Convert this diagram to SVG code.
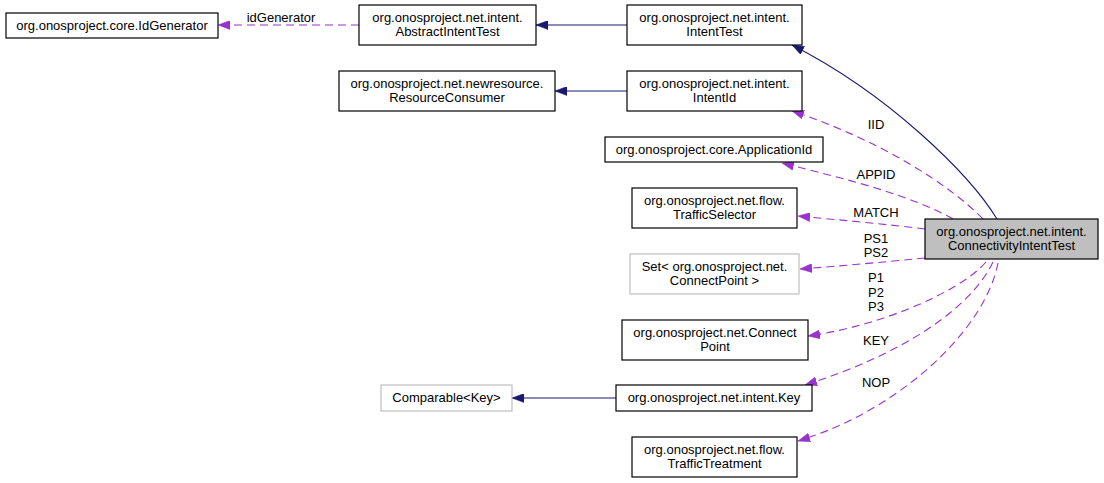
<svg xmlns="http://www.w3.org/2000/svg" width="1104" height="483" viewBox="0 0 1104 483">
<style>
  .box { fill: #ffffff; stroke: #000000; stroke-width: 1.2; }
  .gbox { fill: #ffffff; stroke: #bfbfbf; stroke-width: 1.2; }
  .sel { fill: #bfbfbf; stroke: #000000; stroke-width: 1.2; }
  text { font-family: "Liberation Sans", Arial, sans-serif; font-size: 13px; fill: #000000; text-anchor: middle; }
  .inh { fill: none; stroke: #191970; stroke-width: 1.1; marker-end: url(#navyArrow); }
  .use { fill: none; stroke: #9a32cd; stroke-width: 1.1; stroke-dasharray: 8,5; marker-end: url(#purpleArrow); }
</style>
<defs>
  <marker id="navyArrow" viewBox="0 0 12 9" refX="12" refY="4.5" markerWidth="12" markerHeight="9" markerUnits="userSpaceOnUse" orient="auto">
    <path d="M0,0 L12,4.5 L0,9 Z" fill="#191970" stroke="#191970" stroke-width="0.5"/>
  </marker>
  <marker id="purpleArrow" viewBox="0 0 12 9" refX="12" refY="4.5" markerWidth="12" markerHeight="9" markerUnits="userSpaceOnUse" orient="auto">
    <path d="M0,0 L12,4.5 L0,9 Z" fill="#9a32cd" stroke="#9a32cd" stroke-width="0.5"/>
  </marker>
</defs>
<rect width="1104" height="483" fill="#ffffff"/>

<g id="connectors">
  <path class="inh" d="M627,25 L536,25"/>
  <path class="inh" d="M627,91 L555,91"/>
  <path class="inh" d="M616,398 L512,398"/>
  <path class="inh" d="M997,219 C970,175 890,95 792,45"/>
  <path class="use" d="M359,25 L218,25"/>
  <path class="use" d="M983,219 C950,185 880,140 792,111"/>
  <path class="use" d="M953,219 C910,195 850,180 782,163"/>
  <path class="use" d="M925,229 C885,224 840,220 798,216"/>
  <path class="use" d="M925,258 C885,262 840,266 800,269"/>
  <path class="use" d="M986,262 C960,292 880,326 808,336"/>
  <path class="use" d="M993,262 C970,310 900,355 805,385"/>
  <path class="use" d="M998,263 C985,330 900,410 798,441"/>
  <text x="281" y="22">idGenerator</text>
  <text x="876" y="129">IID</text>
  <text x="876" y="179">APPID</text>
  <text x="876" y="217">MATCH</text>
  <text x="876" y="243">PS1</text>
  <text x="876" y="257">PS2</text>
  <text x="876" y="282">P1</text>
  <text x="876" y="297">P2</text>
  <text x="876" y="311">P3</text>
  <text x="876" y="345">KEY</text>
  <text x="876" y="387">NOP</text>
</g>

<g id="node-connectivity">
  <rect class="sel" x="925" y="219" width="173" height="40"/>
  <text x="1011.5" y="236">org.onosproject.net.intent.</text>
  <text x="1011.5" y="250">ConnectivityIntentTest</text>
</g>
<g id="node-intenttest">
  <rect class="box" x="627" y="5" width="175" height="40"/>
  <text x="714.5" y="22">org.onosproject.net.intent.</text>
  <text x="714.5" y="36">IntentTest</text>
</g>
<g id="node-abstractintenttest">
  <rect class="box" x="359" y="5" width="177" height="40"/>
  <text x="447.5" y="22">org.onosproject.net.intent.</text>
  <text x="447.5" y="36">AbstractIntentTest</text>
</g>
<g id="node-idgenerator">
  <rect class="box" x="6" y="13" width="212" height="25"/>
  <text x="112" y="30">org.onosproject.core.IdGenerator</text>
</g>
<g id="node-intentid">
  <rect class="box" x="627" y="71" width="175" height="40"/>
  <text x="714.5" y="88">org.onosproject.net.intent.</text>
  <text x="714.5" y="102">IntentId</text>
</g>
<g id="node-resourceconsumer">
  <rect class="box" x="339" y="71" width="216" height="40"/>
  <text x="447" y="88">org.onosproject.net.newresource.</text>
  <text x="447" y="102">ResourceConsumer</text>
</g>
<g id="node-applicationid">
  <rect class="box" x="605" y="137" width="218" height="25"/>
  <text x="714" y="154">org.onosproject.core.ApplicationId</text>
</g>
<g id="node-trafficselector">
  <rect class="box" x="632" y="188" width="165" height="40"/>
  <text x="714.5" y="205">org.onosproject.net.flow.</text>
  <text x="714.5" y="219">TrafficSelector</text>
</g>
<g id="node-set">
  <rect class="gbox" x="630" y="254" width="169" height="40"/>
  <text x="714.5" y="271">Set&lt; org.onosproject.net.</text>
  <text x="714.5" y="285">ConnectPoint &gt;</text>
</g>
<g id="node-connectpoint">
  <rect class="box" x="622" y="320" width="186" height="40"/>
  <text x="715" y="337">org.onosproject.net.Connect</text>
  <text x="715" y="351">Point</text>
</g>
<g id="node-comparable">
  <rect class="gbox" x="381" y="385" width="131" height="26"/>
  <text x="446.5" y="402">Comparable&lt;Key&gt;</text>
</g>
<g id="node-key">
  <rect class="box" x="616" y="385" width="196" height="26"/>
  <text x="714" y="402">org.onosproject.net.intent.Key</text>
</g>
<g id="node-traffictreatment">
  <rect class="box" x="632" y="437" width="165" height="40"/>
  <text x="714.5" y="454">org.onosproject.net.flow.</text>
  <text x="714.5" y="468">TrafficTreatment</text>
</g>
</svg>
